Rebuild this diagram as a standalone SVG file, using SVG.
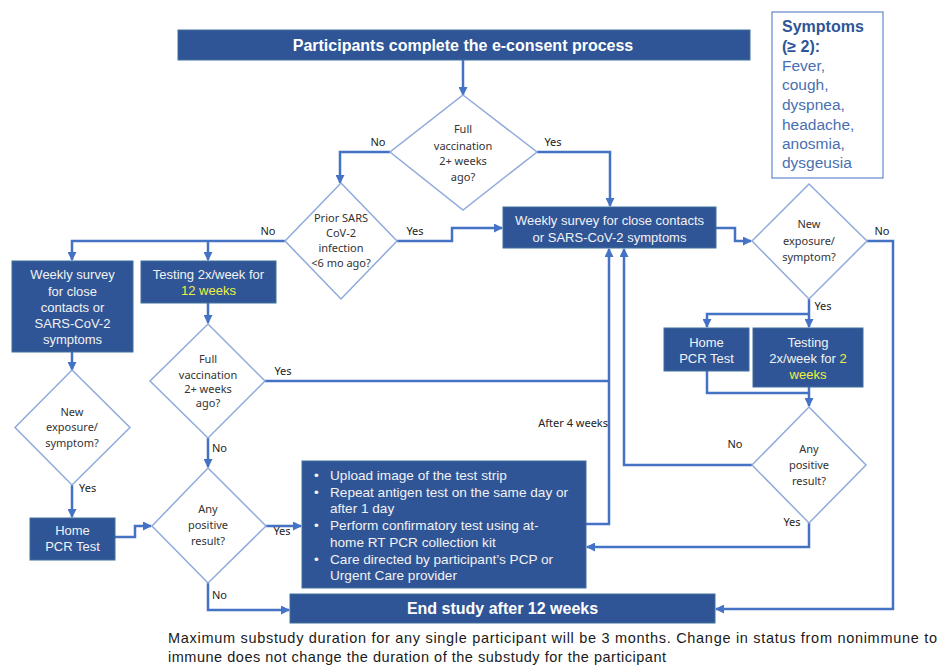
<svg xmlns="http://www.w3.org/2000/svg" width="939" height="666" viewBox="0 0 939 666">
<style>
.box{fill:#2f5597;stroke:#41719c;stroke-width:1}
.dia{fill:#fff;stroke:#8faadc;stroke-width:1.5}
.bt{font-family:"Liberation Sans",Arial,sans-serif;font-size:13px;fill:#f2f2f2;text-anchor:middle}
.bl{font-family:"Liberation Sans",Arial,sans-serif;font-size:13.6px;fill:#f2f2f2}
.hd{font-family:"Liberation Sans",Arial,sans-serif;font-size:16px;font-weight:bold;fill:#fff;text-anchor:middle}
.dt{font-family:"Noto Sans","Open Sans",sans-serif;font-size:11px;fill:#333;text-anchor:middle}
.lb{font-family:"Noto Sans","Open Sans",sans-serif;font-size:11px;fill:#222}
.yl{fill:#f0f040}
.con path{fill:none;stroke:#4472c4;stroke-width:2.5}
.sy{font-family:"Liberation Sans",Arial,sans-serif;font-size:15.5px;fill:#4a6fb0}
.syb{font-weight:bold;fill:#2f5597;font-size:16px}
.ft{font-family:"Liberation Sans",Arial,sans-serif;font-size:14.5px;fill:#1a1a1a}
</style>
<defs>
<marker id="ah" markerUnits="userSpaceOnUse" markerWidth="9" markerHeight="9" refX="8" refY="4.5" orient="auto">
<path d="M0,0 L9,4.5 L0,9 z" fill="#4472c4"/>
</marker>
</defs>

<g class="con">
<path d="M463,60 V95" marker-end="url(#ah)"/>
<path d="M390,152 H340 V183" marker-end="url(#ah)"/>
<path d="M537,152 H610 V206" marker-end="url(#ah)"/>
<path d="M397,241 H452 V228 H502" marker-end="url(#ah)"/>
<path d="M285,241 H72 V260" marker-end="url(#ah)"/>
<path d="M208,241 V260" marker-end="url(#ah)"/>
<path d="M72,352 V370" marker-end="url(#ah)"/>
<path d="M72,485 V517" marker-end="url(#ah)"/>
<path d="M115,537 H135 V526 H151" marker-end="url(#ah)"/>
<path d="M208,303 V323" marker-end="url(#ah)"/>
<path d="M208,438 V467" marker-end="url(#ah)"/>
<path d="M265,381 H609"/>
<path d="M266,526 H301" marker-end="url(#ah)"/>
<path d="M208,583 V610 H289" marker-end="url(#ah)"/>
<path d="M586,524 H609 V249" marker-end="url(#ah)"/>
<path d="M716,228 H735 V241 H751" marker-end="url(#ah)"/>
<path d="M867,241 H893 V609 H716" marker-end="url(#ah)"/>
<path d="M809,299 V327" marker-end="url(#ah)"/>
<path d="M809,314 H707 V327" marker-end="url(#ah)"/>
<path d="M707,371 V393 H809"/>
<path d="M809,387 V406" marker-end="url(#ah)"/>
<path d="M752,465 H624 V249" marker-end="url(#ah)"/>
<path d="M809,523 V547 H587" marker-end="url(#ah)"/>
</g>

<g id="labels">
<text class="lb" x="378" y="146" text-anchor="middle">No</text>
<text class="lb" x="553" y="146" text-anchor="middle">Yes</text>
<text class="lb" x="268" y="235" text-anchor="middle">No</text>
<text class="lb" x="415" y="235" text-anchor="middle">Yes</text>
<text class="lb" x="283" y="375" text-anchor="middle">Yes</text>
<text class="lb" x="212" y="452">No</text>
<text class="lb" x="79" y="492">Yes</text>
<text class="lb" x="282" y="535" text-anchor="middle">Yes</text>
<text class="lb" x="212" y="599">No</text>
<text class="lb" x="608" y="427" text-anchor="end">After 4 weeks</text>
<text class="lb" x="882" y="235" text-anchor="middle">No</text>
<text class="lb" x="823" y="310" text-anchor="middle">Yes</text>
<text class="lb" x="735" y="448" text-anchor="middle">No</text>
<text class="lb" x="792" y="526" text-anchor="middle">Yes</text>
</g>

<g id="start">
<rect class="box" x="178" y="30" width="572" height="30"/>
<text class="hd" x="463" y="50.5">Participants complete the e-consent process</text>
</g>

<g id="d-full-vacc">
<polygon class="dia" points="463,95 537,152 463,210 390,152"/>
<text class="dt" x="463" y="133">Full</text>
<text class="dt" x="463" y="150">vaccination</text>
<text class="dt" x="463" y="165">2+ weeks</text>
<text class="dt" x="463" y="181">ago?</text>
</g>

<g id="d-prior">
<polygon class="dia" points="341,183 397,241 341,299 285,241"/>
<text class="dt" x="341" y="222">Prior SARS</text>
<text class="dt" x="341" y="237">CoV-2</text>
<text class="dt" x="341" y="252">infection</text>
<text class="dt" x="341" y="267">&lt;6 mo ago?</text>
</g>

<g id="weekly-main">
<rect class="box" x="503" y="207" width="213" height="41"/>
<text class="bt" x="609.5" y="224.5">Weekly survey  for close contacts</text>
<text class="bt" x="609.5" y="241.5">or SARS-CoV-2  symptoms</text>
</g>

<g id="weekly-left">
<rect class="box" x="12" y="261" width="121" height="91"/>
<text class="bt" x="72.5" y="278.5">Weekly survey</text>
<text class="bt" x="72.5" y="295.5">for close</text>
<text class="bt" x="72.5" y="311.5">contacts or</text>
<text class="bt" x="72.5" y="327.5">SARS-CoV-2</text>
<text class="bt" x="72.5" y="343.5">symptoms</text>
</g>

<g id="testing-12">
<rect class="box" x="141" y="261" width="135" height="42"/>
<text class="bt" x="208.5" y="278.5">Testing 2x/week for</text>
<text class="bt yl" x="208.5" y="294.5">12 weeks</text>
</g>

<g id="d-new-left">
<polygon class="dia" points="72,370 130,427.5 72,485 15,427.5"/>
<text class="dt" x="72" y="416">New</text>
<text class="dt" x="72" y="431">exposure/</text>
<text class="dt" x="72" y="447">symptom?</text>
</g>

<g id="d-full-vacc-2">
<polygon class="dia" points="208,324 265,381 208,438 150,381"/>
<text class="dt" x="208" y="363">Full</text>
<text class="dt" x="208" y="379">vaccination</text>
<text class="dt" x="208" y="393">2+ weeks</text>
<text class="dt" x="208" y="407">ago?</text>
</g>

<g id="home-left">
<rect class="box" x="30" y="518" width="85" height="42"/>
<text class="bt" x="72.5" y="534.5">Home</text>
<text class="bt" x="72.5" y="551">PCR Test</text>
</g>

<g id="d-pos-left">
<polygon class="dia" points="208,468 266,526 208,583 152,526"/>
<text class="dt" x="208" y="513">Any</text>
<text class="dt" x="208" y="529">positive</text>
<text class="dt" x="208" y="545">result?</text>
</g>

<g id="actions">
<rect class="box" x="302" y="461" width="284" height="127"/>
<text class="bl" x="314" y="479.5">•</text>
<text class="bl" x="330" y="479.5">Upload image  of the test strip</text>
<text class="bl" x="314" y="496.5">•</text>
<text class="bl" x="330" y="496.5">Repeat antigen test on the same day or</text>
<text class="bl" x="330" y="512.5">after 1 day</text>
<text class="bl" x="314" y="529.5">•</text>
<text class="bl" x="330" y="529.5">Perform confirmatory test using at-</text>
<text class="bl" x="330" y="546.5">home RT PCR  collection kit</text>
<text class="bl" x="314" y="563.5">•</text>
<text class="bl" x="330" y="563.5">Care directed by participant’s PCP or</text>
<text class="bl" x="330" y="580">Urgent Care provider</text>
</g>

<g id="end">
<rect class="box" x="290" y="594" width="425" height="29"/>
<text class="hd" x="502.5" y="614">End study after 12 weeks</text>
</g>

<g id="d-new-right">
<polygon class="dia" points="809,184 867,241 809,299 752,241"/>
<text class="dt" x="809" y="228">New</text>
<text class="dt" x="809" y="245">exposure/</text>
<text class="dt" x="809" y="261">symptom?</text>
</g>

<g id="home-right">
<rect class="box" x="664" y="328" width="85" height="43"/>
<text class="bt" x="706.5" y="346.5">Home</text>
<text class="bt" x="706.5" y="362.5">PCR Test</text>
</g>

<g id="testing-2">
<rect class="box" x="753" y="328" width="110" height="59"/>
<text class="bt" x="808" y="346.5">Testing</text>
<text class="bt" x="808" y="362.5">2x/week for <tspan class="yl">2</tspan></text>
<text class="bt yl" x="808" y="378.5">weeks</text>
</g>

<g id="d-pos-right">
<polygon class="dia" points="809,407 866,465 809,523 752,465"/>
<text class="dt" x="809" y="453">Any</text>
<text class="dt" x="809" y="469">positive</text>
<text class="dt" x="809" y="485">result?</text>
</g>

<g id="symptoms">
<rect x="772" y="12" width="111" height="166" fill="#fff" stroke="#6f8fcf" stroke-width="1.3"/>
<text class="sy syb" x="782" y="32">Symptoms</text>
<text class="sy syb" x="782" y="52">(≥ 2):</text>
<text class="sy" x="782" y="71">Fever,</text>
<text class="sy" x="782" y="90">cough,</text>
<text class="sy" x="782" y="109.5">dyspnea,</text>
<text class="sy" x="782" y="129.5">headache,</text>
<text class="sy" x="782" y="149">anosmia,</text>
<text class="sy" x="782" y="168">dysgeusia</text>
</g>

<g id="footer">
<text class="ft" x="168" y="643" textLength="769" lengthAdjust="spacing">Maximum substudy duration for any single participant will be 3 months.  Change in status from nonimmune to</text>
<text class="ft" x="168" y="662" textLength="498" lengthAdjust="spacing">immune does not change the duration of the substudy for the participant</text>
</g>
</svg>
